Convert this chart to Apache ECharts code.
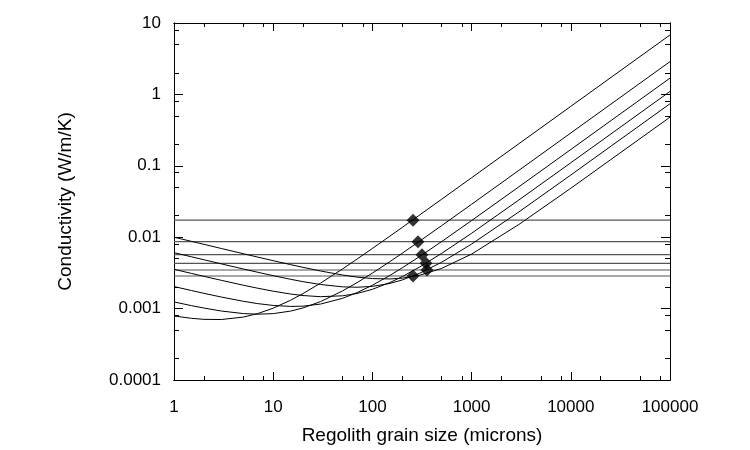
<!DOCTYPE html>
<html>
<head>
<meta charset="utf-8">
<script src="https://cdn.jsdelivr.net/npm/echarts@6/dist/echarts.min.js"></script>
<style>
  html, body { margin: 0; background: #fff; }
  #chart { width: 750px; height: 450px; }
</style>
</head>
<body>
<div id="chart"></div>
<script>
// grain sizes (microns) where the curves are sampled
const grainSize = [1, 1.5, 2, 3, 5, 7, 10, 15, 20, 30, 50, 70, 100, 150, 200, 300, 500, 1000, 3000, 10000, 100000];

// conductivity curves (W/m/K)
const curve1 = [0.000788, 0.000731, 0.000707, 0.000703, 0.000761, 0.000852, 0.001014, 0.001312, 0.001625, 0.002272, 0.003595, 0.004935, 0.006955, 0.01034, 0.01372, 0.02051, 0.03409, 0.06807, 0.204, 0.68, 6.8];
const curve2 = [0.00124, 0.0011, 0.001018, 0.000925, 0.000852, 0.000835, 0.00085, 0.000923, 0.001022, 0.001253, 0.001768, 0.00231, 0.003141, 0.004548, 0.005967, 0.008821, 0.01455, 0.02892, 0.08648, 0.288, 2.88];
const curve3 = [0.002037, 0.00179, 0.001637, 0.001452, 0.001266, 0.001174, 0.001107, 0.001073, 0.001082, 0.001157, 0.001393, 0.001673, 0.002125, 0.002915, 0.003725, 0.005372, 0.008705, 0.0171, 0.05084, 0.1691, 1.69];
const curve4 = [0.003551, 0.00311, 0.002832, 0.002488, 0.002125, 0.001928, 0.001753, 0.0016, 0.001524, 0.001469, 0.001511, 0.001629, 0.001863, 0.002316, 0.002805, 0.003829, 0.005946, 0.01135, 0.03325, 0.1102, 1.1];
const curve5 = [0.006077, 0.005314, 0.004833, 0.004231, 0.003587, 0.003225, 0.002892, 0.002572, 0.002384, 0.002175, 0.002017, 0.001991, 0.002047, 0.002252, 0.002518, 0.003127, 0.004465, 0.008007, 0.02262, 0.07428, 0.74];
const curve6 = [0.010005, 0.008743, 0.007947, 0.006948, 0.005872, 0.005262, 0.00469, 0.004127, 0.00378, 0.003362, 0.002954, 0.002762, 0.002634, 0.002602, 0.00267, 0.002934, 0.00366, 0.0058, 0.01509, 0.04846, 0.48];

// measured conductivity levels (horizontal lines)
const levels = [0.01733, 0.00865, 0.0057, 0.00431, 0.00347, 0.00286];

// derived grain sizes (diamonds)
const diamondSize = [257, 288, 316, 347, 355, 257];
const diamondK = [0.01733, 0.00865, 0.0057, 0.00431, 0.00347, 0.00286];

// tick labels
const xTickLabels = ['1', '10', '100', '1000', '10000', '100000'];
const yTickLabels = ['0.0001', '0.001', '0.01', '0.1', '1', '10'];
const xMajor = [1, 10, 100, 1000, 10000, 100000];
const yMajor = [0.0001, 0.001, 0.01, 0.1, 1, 10];
const xMinor = [2, 5, 8, 20, 50, 80, 200, 500, 800, 2000, 5000, 8000, 20000, 50000, 80000];
const yMinor = [0.0002, 0.0005, 0.0008, 0.002, 0.005, 0.008, 0.02, 0.05, 0.08, 0.2, 0.5, 0.8, 2, 5, 8];

const curves = [curve1, curve2, curve3, curve4, curve5, curve6];
const textColor = '#000';
const fontFamily = '"Liberation Sans", Arial, sans-serif';

function makeAxis(position, min, max, ticks, tickLen, labels, name) {
  return {
    type: 'log',
    logBase: 10,
    position: position,
    min: min,
    max: max,
    name: name || '',
    nameLocation: 'middle',
    nameGap: position === 'left' ? 99 : 46,
    nameTextStyle: { color: textColor, fontSize: 19, fontFamily: fontFamily },
    axisLine: { show: true, onZero: false, lineStyle: { color: '#000', width: 1 } },
    axisTick: { show: true, inside: true, length: tickLen, customValues: ticks, lineStyle: { color: '#000', width: 1 } },
    axisLabel: labels ? {
      show: true,
      customValues: ticks,
      margin: position === 'left' ? 13 : 19,
      color: textColor,
      fontSize: 17,
      fontFamily: fontFamily,
      formatter: function (v) {
        const i = Math.round(Math.log10(v) - Math.log10(min));
        return labels[i];
      }
    } : { show: false },
    splitLine: { show: false },
    minorTick: { show: false },
    minorSplitLine: { show: false }
  };
}

const series = [];
curves.forEach(function (c) {
  series.push({
    type: 'line',
    showSymbol: false,
    silent: true,
    data: grainSize.map(function (d, i) { return [d, c[i]]; }),
    lineStyle: { color: '#000', width: 1 },
    z: 3
  });
});
levels.forEach(function (v) {
  series.push({
    type: 'line',
    showSymbol: false,
    silent: true,
    data: [[xMajor[0], v], [xMajor[xMajor.length - 1], v]],
    lineStyle: { color: '#555', width: 1.2 },
    z: 2
  });
});
series.push({
  type: 'scatter',
  symbol: 'diamond',
  symbolSize: 13,
  itemStyle: { color: '#000' },
  data: diamondSize.map(function (d, i) { return [d, diamondK[i]]; }),
  z: 5
});

const option = {
  animation: false,
  backgroundColor: '#fff',
  grid: { left: 174, right: 80, top: 23, bottom: 69 },
  xAxis: [
    makeAxis('bottom', 1, 100000, xMajor, 8, xTickLabels, 'Regolith grain size (microns)'),
    makeAxis('top', 1, 100000, xMajor, 8, null),
    makeAxis('bottom', 1, 100000, xMinor, 4, null),
    makeAxis('top', 1, 100000, xMinor, 4, null)
  ],
  yAxis: [
    makeAxis('left', 0.0001, 10, yMajor, 9, yTickLabels, 'Conductivity (W/m/K)'),
    makeAxis('right', 0.0001, 10, yMajor, 9, null),
    makeAxis('left', 0.0001, 10, yMinor, 5, null),
    makeAxis('right', 0.0001, 10, yMinor, 5, null)
  ],
  series: series
};

const chart = echarts.init(document.getElementById('chart'), null, { renderer: 'canvas' });
chart.setOption(option);
</script>
</body>
</html>
